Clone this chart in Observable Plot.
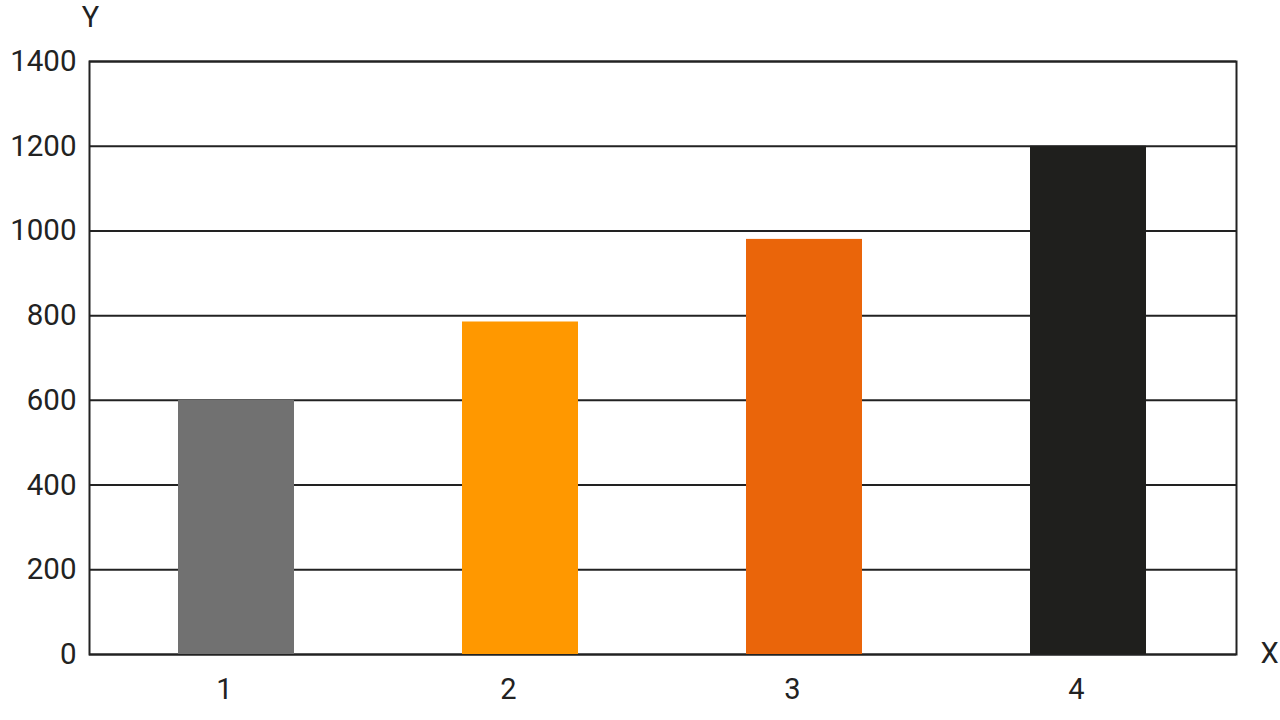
<!DOCTYPE html>
<html>
<head>
<meta charset="utf-8">
<script src="https://cdn.jsdelivr.net/npm/d3@7"></script>
<script src="https://cdn.jsdelivr.net/npm/@observablehq/plot@0.6"></script>
<style>
  html, body { margin: 0; padding: 0; background: #fff; }
  #chart svg { display: block; }
</style>
</head>
<body>
<div id="chart"></div>
<script>
const categories = ["1", "2", "3", "4"];
const values = [600, 785, 980, 1200];
const colors = ["#717171", "#FF9800", "#EA650A", "#1F1F1D"];
const yTicks = [0, 200, 400, 600, 800, 1000, 1200, 1400];

const data = categories.map((c, i) => ({x: c, y: values[i], color: colors[i]}));

const chart = Plot.plot({
  width: 1280,
  height: 720,
  marginLeft: 89,
  marginRight: 44,
  marginTop: 61,
  marginBottom: 66,
  style: {fontFamily: "Roboto, sans-serif", fontSize: "29px", color: "#222", background: "#fff"},
  x: {domain: categories, paddingInner: 0.59, paddingOuter: 0.31, label: null},
  y: {domain: [0, 1400], label: null},
  marks: [
    Plot.gridY(yTicks, {stroke: "#222", strokeOpacity: 1, strokeWidth: 2}),
    Plot.frame({stroke: "#222", strokeWidth: 2}),
    Plot.barY(data, {x: "x", y: "y", fill: "color"}),
    Plot.axisY(yTicks, {tickSize: 0, tickPadding: 13, fontSize: 29.5, fill: "#222", label: null, tickFormat: d3.format("d")}),
    Plot.axisX({tickSize: 0, tickPadding: 24, dx: -12, fontSize: 29, fill: "#222", label: null}),
    Plot.text(["Y"], {frameAnchor: "top-left", dx: 1, dy: -44, fontSize: 29, fill: "#222", textAnchor: "middle", lineAnchor: "middle"}),
    Plot.text(["X"], {frameAnchor: "bottom-right", dx: 33, dy: -1, fontSize: 29, fill: "#222", textAnchor: "middle", lineAnchor: "middle"})
  ]
});
document.getElementById("chart").appendChild(chart);
</script>
</body>
</html>
